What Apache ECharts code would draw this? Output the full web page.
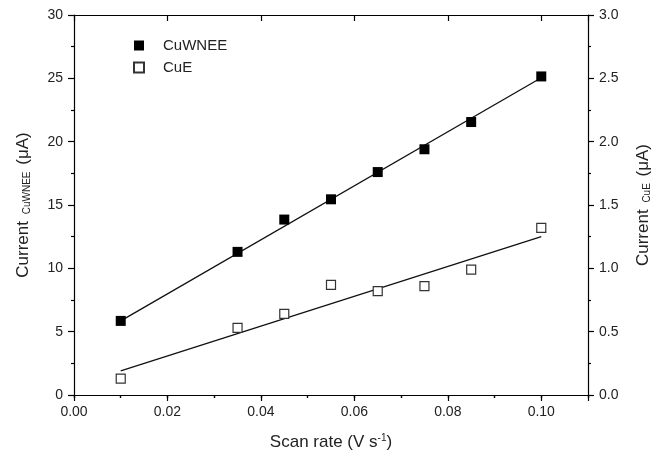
<!DOCTYPE html>
<html><head><meta charset="utf-8">
<script src="https://cdn.jsdelivr.net/npm/echarts@6/dist/echarts.min.js"></script>
<style>html,body{margin:0;padding:0;background:#fff}#c{width:656px;height:460px}</style>
</head><body><div id="c"></div>
<script>
const scanRates = [0.01, 0.035, 0.045, 0.055, 0.065, 0.075, 0.085, 0.10];
const cuwneeValues = [5.85, 11.3, 13.85, 15.45, 17.6, 19.4, 21.55, 25.15];
const cueValues = [0.13, 0.53, 0.64, 0.87, 0.82, 0.86, 0.99, 1.32];
const cuwneeFitX = [0.01, 0.10];
const cuwneeFitY = [5.85, 25.05];
const cueFitX = [0.01, 0.10];
const cueFitY = [0.19, 1.25];
const xTickLabels = ['0.00','0.02','0.04','0.06','0.08','0.10'];
const leftTickLabels = ['0','5','10','15','20','25','30'];
const rightTickLabels = ['0.0','0.5','1.0','1.5','2.0','2.5','3.0'];

const font = 'Liberation Sans';
const txt = '#222';
const line = {lineStyle:{color:'#000', width:1.2}};

function xAx(pos, interval, len, inside, labels, extra){
  return Object.assign({
    type:'value', min:0, max:0.11, interval:interval, position:pos,
    axisLine:{show:true, onZero:false, ...line},
    axisTick:{show:true, inside:inside, length:len, lineStyle:{color:'#000', width:1.2}},
    axisLabel:{show:labels, color:txt, fontFamily:font, fontSize:14, margin:10,
      formatter:function(v){ const i = Math.round(v/0.02); return (Math.abs(v - i*0.02) < 1e-6 && i < xTickLabels.length) ? xTickLabels[i] : ''; }},
    splitLine:{show:false}
  }, extra||{});
}

const option = {
  backgroundColor:'#fff',
  animation:false,
  grid:{left:74, right:68, top:15, bottom:65, containLabel:false, outerBoundsMode:'none'},
  legend:{
    orient:'vertical', left:128, top:33, itemWidth:10, itemHeight:10, itemGap:7,
    textStyle:{fontFamily:font, fontSize:15, color:txt, padding:[0,0,0,14]},
    data:[{name:'CuWNEE', icon:'rect'}, {name:'CuE', icon:'rect'}]
  },
  xAxis:[
    xAx('bottom', 0.02, 6, false, true, {
      name:'Scan rate (V s{sup|-1})', nameLocation:'middle', nameGap:38,
      nameTextStyle:{fontFamily:font, fontSize:17, color:txt,
        rich:{sup:{fontSize:10, fontFamily:font, color:txt, padding:[0,0,8,0]}}}
    }),
    xAx('bottom', 0.01, 3, false, false, {axisLine:{show:false}}),
    xAx('top', 0.02, 6, true, false),
    xAx('top', 0.01, 3, true, false, {axisLine:{show:false}})
  ],
  yAxis:[
    {type:'value', min:0, max:30, interval:5, position:'left',
     axisLine:{show:true, onZero:false, ...line},
     axisTick:{show:true, inside:false, length:6, lineStyle:{color:'#000', width:1.2}},
     minorTick:{show:true, splitNumber:2, length:3, lineStyle:{color:'#000', width:1.2}},
     axisLabel:{color:txt, fontFamily:font, fontSize:14, margin:11, formatter:function(v){return leftTickLabels[Math.round(v/5)];}},
     splitLine:{show:false},
     name:'Current {sub|CuWNEE} (μA)', nameLocation:'middle', nameGap:42, nameRotate:90,
     nameTextStyle:{fontFamily:font, fontSize:17, color:txt,
       rich:{sub:{fontSize:10, fontFamily:font, color:txt, padding:[8,2,0,2]}}}
    },
    {type:'value', min:0, max:3, interval:0.5, position:'right',
     axisLine:{show:true, onZero:false, ...line},
     axisTick:{show:true, inside:false, length:6, lineStyle:{color:'#000', width:1.2}},
     minorTick:{show:true, splitNumber:2, length:3, lineStyle:{color:'#000', width:1.2}},
     axisLabel:{color:txt, fontFamily:font, fontSize:14, margin:11, formatter:function(v){return rightTickLabels[Math.round(v/0.5)];}},
     splitLine:{show:false},
     name:'Current {sub|CuE} (μA)', nameLocation:'middle', nameGap:46, nameRotate:90,
     nameTextStyle:{fontFamily:font, fontSize:17, color:txt,
       rich:{sub:{fontSize:10, fontFamily:font, color:txt, padding:[8,2,0,2]}}}
    }
  ],
  series:[
    {name:'CuWNEE fit', type:'line', xAxisIndex:0, yAxisIndex:0, symbol:'none', silent:true,
     lineStyle:{color:'#111', width:1.3}, data:cuwneeFitX.map((x,i)=>[x, cuwneeFitY[i]]), z:2},
    {name:'CuE fit', type:'line', xAxisIndex:0, yAxisIndex:1, symbol:'none', silent:true,
     lineStyle:{color:'#111', width:1.3}, data:cueFitX.map((x,i)=>[x, cueFitY[i]]), z:2},
    {name:'CuWNEE', type:'scatter', xAxisIndex:0, yAxisIndex:0, symbol:'rect', symbolSize:10,
     itemStyle:{color:'#000', opacity:1}, data:scanRates.map((x,i)=>[x, cuwneeValues[i]]), z:3},
    {name:'CuE', type:'scatter', xAxisIndex:0, yAxisIndex:1, symbol:'rect', symbolSize:9,
     itemStyle:{color:'#fff', borderColor:'#333', borderWidth:1.2, opacity:1}, data:scanRates.map((x,i)=>[x, cueValues[i]]), z:3}
  ]
};
echarts.init(document.getElementById('c'), null, {renderer:'canvas'}).setOption(option);
</script></body></html>
